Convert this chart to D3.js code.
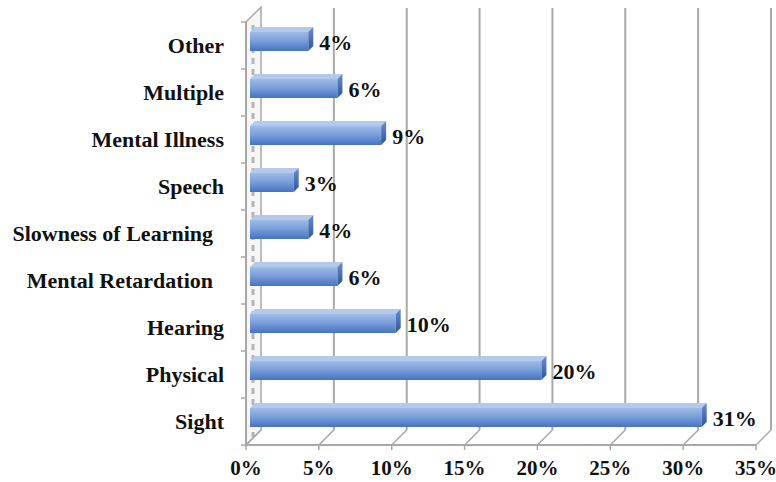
<!DOCTYPE html>
<html>
<head>
<meta charset="utf-8">
<script src="https://d3js.org/d3.v7.min.js"></script>
<title>Disability types</title>
<style>
  body { margin: 0; background: #fff; }
  svg { display: block; }
  text { font-family: "Liberation Serif", "Times New Roman", serif; font-weight: bold; fill: #111; }
</style>
</head>
<body>
<svg width="776" height="482"></svg>
<script>

// data, top to bottom as shown
let categories = ["Other", "Multiple", "Mental Illness", "Speech", "Slowness of Learning  ",
                  "Mental Retardation  ", "Hearing", "Physical", "Sight"];
let values = [4, 6, 9, 3, 4, 6, 10, 20, 31];
let tickValues = [0, 5, 10, 15, 20, 25, 30, 35];

let svg = d3.select("svg");

let depthX = 15, depthY = -15;   // offset of the back wall
let floorY = 445;

let x = d3.scaleLinear().domain([0, 35]).range([246, 756]);
let y = d3.scaleBand().domain(categories).range([22, floorY]).paddingInner(0);

let grid = "#a8a8a8";

// bar gradients
let defs = svg.append("defs");
let g1 = defs.append("linearGradient").attr("id", "face").attr("x1", 0).attr("y1", 0).attr("x2", 0).attr("y2", 1);
g1.append("stop").attr("offset", "0%").attr("stop-color", "#9fbbe6");
g1.append("stop").attr("offset", "45%").attr("stop-color", "#7b9fdb");
g1.append("stop").attr("offset", "100%").attr("stop-color", "#4672bf");
let g2 = defs.append("linearGradient").attr("id", "cap").attr("x1", 0).attr("y1", 0).attr("x2", 0).attr("y2", 1);
g2.append("stop").attr("offset", "0%").attr("stop-color", "#6a8ccc");
g2.append("stop").attr("offset", "100%").attr("stop-color", "#2f5597");

// left wall
svg.append("polygon")
    .attr("points", [[246, 22], [246 + depthX, 22 + depthY], [246 + depthX, floorY + depthY], [246, floorY]].join(" "))
    .attr("fill", "#f6f6f6")
    .attr("stroke", grid)
    .attr("stroke-width", 1.5);
svg.append("line")
    .attr("x1", 253).attr("x2", 253)
    .attr("y1", 25).attr("y2", floorY - 8)
    .attr("stroke", "#9a9a9a")
    .attr("stroke-width", 3)
    .attr("stroke-dasharray", "6,5")
    .attr("opacity", 0.7);
svg.append("line")
    .attr("x1", 246).attr("x2", 246)
    .attr("y1", 22).attr("y2", floorY)
    .attr("stroke", grid).attr("stroke-width", 2);

// back wall gridlines
svg.selectAll(".grid").data(tickValues.slice(1)).enter().append("line")
    .attr("class", "grid")
    .attr("x1", d => x(d) + depthX).attr("x2", d => x(d) + depthX)
    .attr("y1", 8).attr("y2", floorY + depthY)
    .attr("stroke", grid).attr("stroke-width", 2);

// floor lines
svg.selectAll(".floor").data(tickValues).enter().append("line")
    .attr("class", "floor")
    .attr("x1", d => x(d)).attr("x2", d => x(d) + depthX)
    .attr("y1", floorY).attr("y2", floorY + depthY)
    .attr("stroke", grid).attr("stroke-width", 1.5);

// front axis
svg.append("line")
    .attr("x1", x(0)).attr("x2", x(35))
    .attr("y1", floorY).attr("y2", floorY)
    .attr("stroke", grid).attr("stroke-width", 2);
svg.selectAll(".xtick").data(tickValues).enter().append("line")
    .attr("class", "xtick")
    .attr("x1", d => x(d)).attr("x2", d => x(d))
    .attr("y1", floorY).attr("y2", floorY + 5)
    .attr("stroke", grid).attr("stroke-width", 1.5);
svg.selectAll(".xlabel").data(tickValues).enter().append("text")
    .attr("class", "xlabel")
    .attr("x", d => x(d))
    .attr("y", 475)
    .attr("text-anchor", "middle")
    .attr("font-size", 21)
    .text(d => d + "%");

// left ticks
let bounds = categories.map(c => y(c)).concat([floorY]);
svg.selectAll(".ytick").data(bounds).enter().append("line")
    .attr("class", "ytick")
    .attr("x1", 241).attr("x2", 246)
    .attr("y1", d => d).attr("y2", d => d)
    .attr("stroke", grid).attr("stroke-width", 1.5);

svg.selectAll(".ylabel").data(categories).enter().append("text")
    .attr("class", "ylabel")
    .attr("x", 224)
    .attr("y", c => y(c) + 23)
    .attr("dy", "0.35em")
    .attr("text-anchor", "end")
    .attr("font-size", 22)
    .style("white-space", "pre")
    .text(c => c);

// bars
let dx = 5, dy = -5;
let bars = svg.selectAll(".bar").data(categories).enter().append("g").attr("class", "bar");
bars.each(function(c, i) {
  let g = d3.select(this);
  let x0 = x(0) + 4, x1 = x(values[i]) + 4;
  let y0 = y(c) + 10, y1 = y(c) + 29;
  g.append("polygon")
      .attr("points", [[x0, y0], [x1, y0], [x1 + dx, y0 + dy], [x0 + dx, y0 + dy]].join(" "))
      .attr("fill", "#b3caec");
  g.append("rect")
      .attr("x", x0).attr("y", y0)
      .attr("width", x1 - x0).attr("height", y1 - y0)
      .attr("fill", "url(#face)");
  g.append("polygon")
      .attr("points", [[x1, y0], [x1 + dx, y0 + dy], [x1 + dx, y1 + dy], [x1, y1]].join(" "))
      .attr("fill", "url(#cap)");
});

svg.selectAll(".vlabel").data(categories).enter().append("text")
    .attr("class", "vlabel")
    .attr("x", (c, i) => x(values[i]) + 15)
    .attr("y", c => y(c) + 20)
    .attr("dy", "0.35em")
    .attr("font-size", 22)
    .text((c, i) => values[i] + "%");

</script>
</body>
</html>
